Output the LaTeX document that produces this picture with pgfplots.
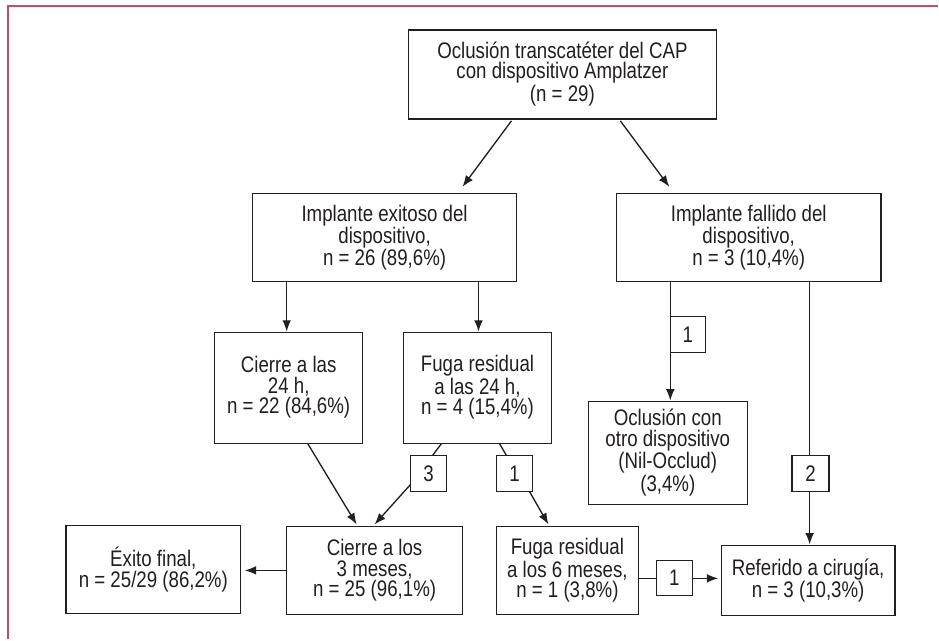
\documentclass[border=0pt]{standalone}
\usepackage{pgfplots}
\pgfplotsset{compat=1.18}
\usetikzlibrary{arrows.meta}
\usepackage{fontspec}
\setmainfont{Liberation Sans}[FakeStretch=0.83]
\definecolor{ink}{HTML}{231F20}
\definecolor{frame}{RGB}{196,76,100}
\begin{document}
\begin{tikzpicture}
\begin{axis}[scale only axis, width=704.25pt, height=480pt,
  xmin=0, xmax=939, ymin=0, ymax=640, y dir=reverse,
  hide axis, clip=false]
% bounding area and frame
\fill[white] (axis cs:0,0) rectangle (axis cs:939,640);
\draw[frame, line width=1.5pt] (axis cs:8,640) -- (axis cs:8,6) -- (axis cs:939,6);
\tikzset{box/.style={draw=ink, line width=1pt},
  arr/.style={draw=ink, line width=1pt, -{Latex[length=8.5pt,width=6.5pt]}},
  ln/.style={draw=ink, line width=1pt},
  txt/.style={text=ink, align=center, inner sep=0pt, font=\fontsize{16.9}{15.4}\selectfont}}
% boxes
\draw[box] (axis cs:409,30) rectangle (axis cs:717,119);
\draw[box] (axis cs:253,194) rectangle (axis cs:517,282);
\draw[box] (axis cs:617,194) rectangle (axis cs:882,282);
\draw[box] (axis cs:215,333) rectangle (axis cs:363,444);
\draw[box] (axis cs:404,333) rectangle (axis cs:552,444);
\draw[box] (axis cs:589,402) rectangle (axis cs:748,505);
\draw[box] (axis cs:66,526) rectangle (axis cs:241,614);
\draw[box] (axis cs:287,527) rectangle (axis cs:463,615);
\draw[box] (axis cs:497,527) rectangle (axis cs:639,615);
\draw[box] (axis cs:722,546) rectangle (axis cs:896,616);
% small label boxes
\draw[box] (axis cs:411,456) rectangle (axis cs:447,492);
\draw[box] (axis cs:497,456) rectangle (axis cs:533,492);
\draw[box] (axis cs:671,317) rectangle (axis cs:706,353);
\draw[box] (axis cs:793,456) rectangle (axis cs:830,492);
\draw[box] (axis cs:657,561) rectangle (axis cs:693,596);
% connectors
\draw[arr] (axis cs:512,121) -- (axis cs:463,187);
\draw[arr] (axis cs:621,121) -- (axis cs:670,187);
\draw[arr] (axis cs:287,282) -- (axis cs:287,332);
\draw[arr] (axis cs:479,282) -- (axis cs:479,332);
\draw[arr] (axis cs:308,444) -- (axis cs:357,525);
\draw[ln] (axis cs:442,444) -- (axis cs:433,456);
\draw[arr] (axis cs:411,485) -- (axis cs:375,525);
\draw[ln] (axis cs:500,444) -- (axis cs:507,456);
\draw[arr] (axis cs:530,492) -- (axis cs:549,525);
\draw[arr] (axis cs:671,282) -- (axis cs:671,401);
\draw[ln] (axis cs:810.5,282) -- (axis cs:810.5,456);
\draw[arr] (axis cs:810.5,492) -- (axis cs:810.5,545);
\draw[arr] (axis cs:287,571) -- (axis cs:245,571);
\draw[ln] (axis cs:639,579) -- (axis cs:657,579);
\draw[arr] (axis cs:693,579) -- (axis cs:719,579);
% texts
\node[txt] at (axis cs:563,74) {Oclusión transcatéter del CAP\\con dispositivo Amplatzer\\(n = 29)};
\node[txt] at (axis cs:385,238) {Implante exitoso del\\dispositivo,\\n = 26 (89,6\%)};
\node[txt] at (axis cs:749.5,238) {Implante fallido del\\dispositivo,\\n = 3 (10,4\%)};
\node[txt] at (axis cs:289,388) {Cierre a las\\24 h,\\n = 22 (84,6\%)};
\node[txt] at (axis cs:478,388) {Fuga residual\\a las 24 h,\\n = 4 (15,4\%)};
\node[txt] at (axis cs:668.5,453) {Oclusión con\\otro dispositivo\\(Nil-Occlud)\\(3,4\%)};
\node[txt] at (axis cs:153.5,570) {Éxito final,\\n = 25/29 (86,2\%)};
\node[txt] at (axis cs:375,571) {Cierre a los\\3 meses,\\n = 25 (96,1\%)};
\node[txt] at (axis cs:568,571) {Fuga residual\\a los 6 meses,\\n = 1 (3,8\%)};
\node[txt] at (axis cs:809,581) {Referido a cirugía,\\n = 3 (10,3\%)};
\node[txt] at (axis cs:429,474) {3};
\node[txt] at (axis cs:515,474) {1};
\node[txt] at (axis cs:688.5,335) {1};
\node[txt] at (axis cs:811.5,474) {2};
\node[txt] at (axis cs:675,578.5) {1};
\end{axis}
\end{tikzpicture}
\end{document}
